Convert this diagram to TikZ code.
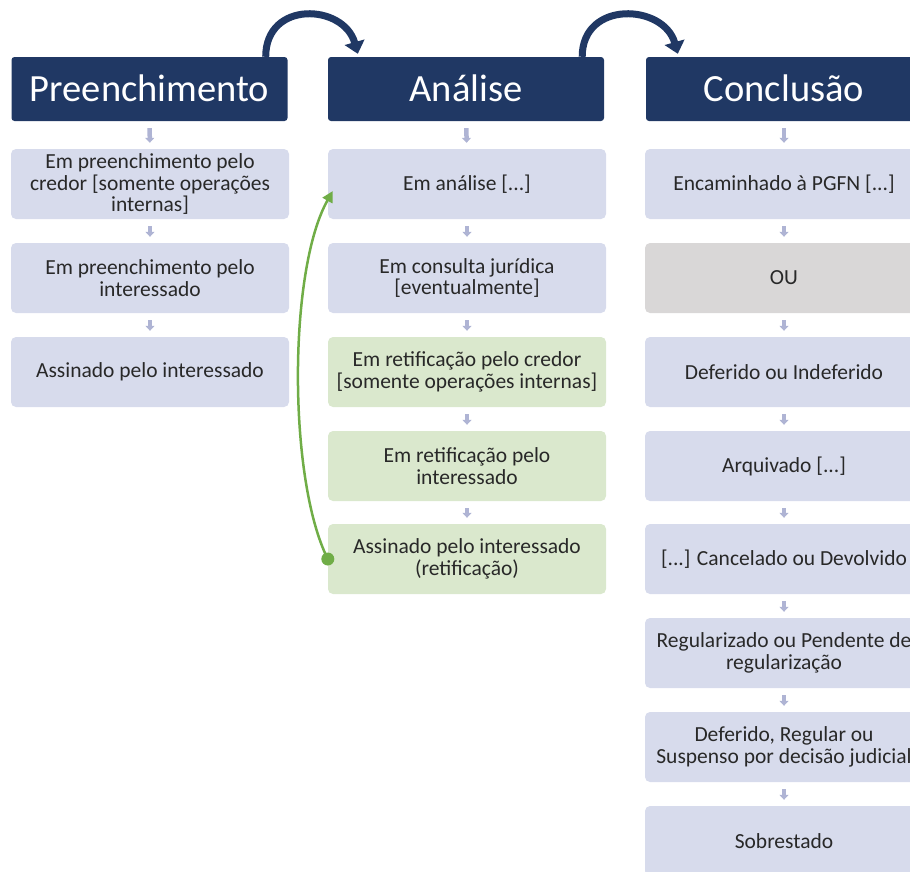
\documentclass[tikz,border=0pt]{standalone}
\usepackage{fontspec}
\setmainfont{Carlito}
\usetikzlibrary{arrows.meta}
\definecolor{navy}{RGB}{32,56,100}
\definecolor{lavender}{RGB}{215,219,236}
\definecolor{palegreen}{RGB}{218,232,205}
\definecolor{palegray}{RGB}{217,215,215}
\definecolor{leafgreen}{RGB}{112,173,71}
\definecolor{tipgray}{RGB}{175,180,212}
\definecolor{inkgray}{RGB}{40,40,40}
\begin{document}
\begin{tikzpicture}[x=1pt,y=-1pt,
	header/.style={fill=navy,text=white,rounded corners=3pt,minimum width=276pt,minimum height=64pt,inner sep=0pt,text height=26pt,text depth=1pt,font=\fontsize{38.5}{40}\selectfont},
	stage/.style={fill=lavender,text=inkgray,rounded corners=5pt,minimum width=278pt,minimum height=70pt,inner sep=0pt,align=center,font=\fontsize{21.5}{21.5}\selectfont},
	greenstage/.style={stage,fill=palegreen},
	graystage/.style={stage,fill=palegray},
	flowarrow/.style={draw=tipgray,line width=4.5pt,-{Triangle[width=9pt,length=5pt]},shorten <=7pt,shorten >=6pt},
	phasearc/.style={draw=navy,line width=7pt,-{Triangle[width=20pt,length=12pt]}},
	backarc/.style={draw=leafgreen,line width=2.5pt,-{Triangle[width=11pt,length=11pt]}}]
		\useasboundingbox (0,0) rectangle (910,871);
		\clip (0,0) rectangle (910,871);
		% phase headers
		\node[header] (h1) at (149.5,89) {Preenchimento};
		\node[header] (h2) at (466,89) {Análise};
		\node[header] (h3) at (784,89) {Conclusão};
		% Preenchimento
		\node[stage] (b11) at (150,184) {Em preenchimento pelo\\credor [somente operações\\internas]};
		\node[stage] (b12) at (150,278) {Em preenchimento pelo\\interessado};
		\node[stage] (b13) at (150,372) {Assinado pelo interessado};
		% Analise
		\node[stage] (b21) at (467,184) {Em análise [...]};
		\node[stage] (b22) at (467,278) {Em consulta jurídica\\{[}eventualmente{]}};
		\node[greenstage] (b23) at (467,372) {Em retificação pelo credor\\{[}somente operações internas{]}};
		\node[greenstage] (b24) at (467,466) {Em retificação pelo\\interessado};
		\node[greenstage] (b25) at (467,559) {Assinado pelo interessado\\(retificação)};
		% Conclusao
		\node[stage] (b31) at (784,184) {Encaminhado à PGFN [...]};
		\node[graystage] (b32) at (784,278) {OU};
		\node[stage] (b33) at (784,372) {Deferido ou Indeferido};
		\node[stage] (b34) at (784,466) {Arquivado [...]};
		\node[stage] (b35) at (784,559) {[...] Cancelado ou Devolvido};
		\node[stage] (b36) at (784,653) {Regularizado ou Pendente de\\regularização};
		\node[stage] (b37) at (784,747) {Deferido, Regular ou\\Suspenso por decisão judicial};
		\node[stage] (b38) at (784,841) {Sobrestado};
		% small down arrows
		\draw[flowarrow] (h1) -- (b11);
		\draw[flowarrow] (b11) -- (b12);
		\draw[flowarrow] (b12) -- (b13);
		\draw[flowarrow] (h2) -- (b21);
		\draw[flowarrow] (b21) -- (b22);
		\draw[flowarrow] (b22) -- (b23);
		\draw[flowarrow] (b23) -- (b24);
		\draw[flowarrow] (b24) -- (b25);
		\draw[flowarrow] (h3) -- (b31);
		\draw[flowarrow] (b31) -- (b32);
		\draw[flowarrow] (b32) -- (b33);
		\draw[flowarrow] (b33) -- (b34);
		\draw[flowarrow] (b34) -- (b35);
		\draw[flowarrow] (b35) -- (b36);
		\draw[flowarrow] (b36) -- (b37);
		\draw[flowarrow] (b37) -- (b38);
		% arcs between phases
		\draw[phasearc] ([xshift=-22pt]h1.north east) .. controls +(0,-57) and +(-14,-50) .. ([xshift=30pt,yshift=3pt]h2.north west);
		\draw[phasearc] ([xshift=-22pt]h2.north east) .. controls +(0,-57) and +(-14,-50) .. ([xshift=32pt,yshift=3pt]h3.north west);
		% back to analysis
		\fill[leafgreen] (b25.west) circle[radius=6.5pt];
		\draw[backarc] (b25.west) .. controls (288,480) and (288,270) .. ([xshift=5pt,yshift=-7pt]b21.west);
\end{tikzpicture}
\end{document}
